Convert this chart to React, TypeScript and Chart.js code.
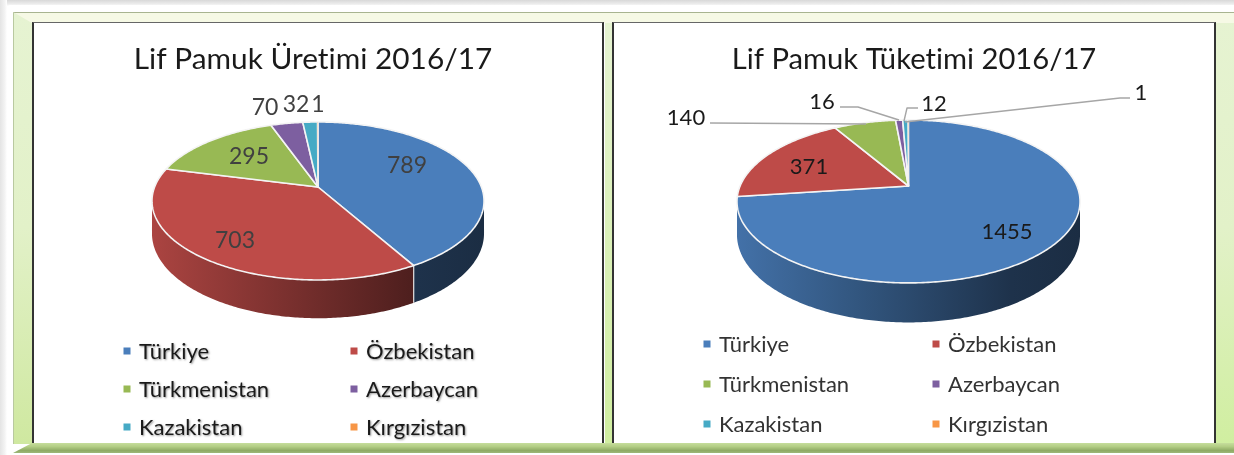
import React, { useEffect, useRef } from "react";
import { Chart, registerables } from "chart.js";

Chart.register(...registerables);

const countries = ["Türkiye", "Özbekistan", "Türkmenistan", "Azerbaycan", "Kazakistan", "Kırgızistan"];
const productionValues = [789, 703, 295, 70, 32, 1];
const consumptionValues = [1455, 371, 140, 16, 12, 1];
const sliceColors = ["#4a7ebb", "#be4b48", "#98b954", "#7d5fa0", "#46aac5", "#f79646"];
const productionTitle = "Lif Pamuk Üretimi 2016/17";
const consumptionTitle = "Lif Pamuk Tüketimi 2016/17";

const FONT = "Lato, Carlito, sans-serif";

type Panel = {
  left: number; top: number; width: number; height: number;
  cx: number; cy: number; rx: number; ry: number; k: number; depth: number;
  pieLeft: number; pieRight: number;
  labelColor: string; labelSize: number;
  labelPos: [number, number][];
  leaders: [number, number][][];
  legendX: [number, number]; legendY: number[]; legendShadow: boolean; legendColor: string;
  titlePad: number; titleSize: number;
};

const leftPanel: Panel = {
  left: 34, top: 24, width: 558, height: 418,
  cx: 318, cy: 187, rx: 163.4, ry: 76.5, k: 0.177, depth: 31.5,
  pieLeft: 152, pieRight: 484,
  labelColor: "#404040", labelSize: 23,
  labelPos: [[407, 166], [235, 241], [249, 157], [265, 108], [296, 105], [318, 105]],
  leaders: [],
  legendX: [127, 354], legendY: [351, 389, 427], legendShadow: true, legendColor: "#1a1a1a",
  titlePad: 18, titleSize: 29.8,
};

const rightPanel: Panel = {
  left: 614, top: 24, width: 600, height: 418,
  cx: 908.5, cy: 186, rx: 168.4, ry: 78.5, k: 0.19, depth: 32,
  pieLeft: 737, pieRight: 1080,
  labelColor: "#1a1a1a", labelSize: 22,
  labelPos: [[1007, 232], [809, 167], [686, 118], [822, 102], [934, 104], [1141, 93]],
  leaders: [
    [[710, 123], [866, 124]],
    [[840, 107], [858, 107], [899, 120]],
    [[918, 108], [907, 108], [904, 121]],
    [[1130, 98], [1120, 98], [905, 122]],
  ],
  legendX: [707, 936], legendY: [344, 384, 424], legendShadow: false, legendColor: "#333333",
  titlePad: 18, titleSize: 29.2,
};

function shade(hex: string, f: number) {
  const n = parseInt(hex.slice(1), 16);
  const c = [(n >> 16) & 255, (n >> 8) & 255, n & 255].map((v) => Math.round(v * f));
  return `rgb(${c[0]},${c[1]},${c[2]})`;
}

function tiltedPie(p: Panel) {
  return {
    id: "tiltedPie",
    beforeDraw(chart: any) {
      // a tiny letter spacing switches off Lato's "ti" ligature
      chart.ctx.letterSpacing = "0.01px";
    },
    beforeDatasetsDraw(chart: any) {
      const ctx: CanvasRenderingContext2D = chart.ctx;
      const arcs = chart.getDatasetMeta(0).data;
      const colors = chart.data.datasets[0].backgroundColor as string[];
      const values = chart.data.datasets[0].data as number[];
      const den = (a: number) => 1 - p.k * Math.sin(a);
      const px = (a: number) => p.cx + (p.rx * Math.cos(a)) / den(a);
      const py = (a: number) => p.cy + (p.ry * Math.sin(a)) / den(a);
      const dy = (a: number) => p.depth / den(a);
      const samples = (s: number, e: number) => {
        const n = Math.max(2, Math.ceil(Math.abs(e - s) / 0.012));
        return Array.from({ length: n + 1 }, (_, i) => s + ((e - s) * i) / n);
      };
      const frontStart = Math.asin(p.k);
      const frontEnd = Math.PI - frontStart;

      ctx.save();
      ctx.translate(-p.left, -p.top);

      arcs.forEach((arc: any, i: number) => {
        const s = Math.max(arc.startAngle, frontStart);
        const e = Math.min(arc.endAngle, frontEnd);
        if (e <= s) return;
        const pts = samples(s, e);
        const g = ctx.createLinearGradient(p.pieLeft, 0, p.pieRight, 0);
        g.addColorStop(0, shade(colors[i], 0.9));
        g.addColorStop(0.35, shade(colors[i], 0.68));
        g.addColorStop(0.8, shade(colors[i], 0.4));
        g.addColorStop(1, shade(colors[i], 0.36));
        ctx.beginPath();
        pts.forEach((a, j) => (j ? ctx.lineTo(px(a), py(a)) : ctx.moveTo(px(a), py(a))));
        [...pts].reverse().forEach((a) => ctx.lineTo(px(a), py(a) + dy(a)));
        ctx.closePath();
        ctx.fillStyle = g;
        ctx.fill();
      });

      arcs.forEach((arc: any) => {
        const a = arc.startAngle;
        if (a <= frontStart || a >= frontEnd) return;
        ctx.beginPath();
        ctx.moveTo(px(a), py(a));
        ctx.lineTo(px(a), py(a) + dy(a));
        ctx.strokeStyle = "rgba(240,240,240,0.9)";
        ctx.lineWidth = 1.2;
        ctx.stroke();
      });

      arcs.forEach((arc: any, i: number) => {
        const pts = samples(arc.startAngle, arc.endAngle);
        ctx.beginPath();
        ctx.moveTo(p.cx, p.cy);
        pts.forEach((a) => ctx.lineTo(px(a), py(a)));
        ctx.closePath();
        ctx.fillStyle = colors[i];
        ctx.fill();
        ctx.strokeStyle = "#f4f4f4";
        ctx.lineWidth = values[i] < 5 ? 0.4 : 1.6;
        ctx.lineJoin = "round";
        ctx.stroke();
      });

      ctx.strokeStyle = "#a6a6a6";
      ctx.lineWidth = 1.4;
      p.leaders.forEach((line) => {
        ctx.beginPath();
        line.forEach(([x, y], j) => (j ? ctx.lineTo(x, y) : ctx.moveTo(x, y)));
        ctx.stroke();
      });

      ctx.textAlign = "center";
      ctx.textBaseline = "middle";
      ctx.fillStyle = p.labelColor;
      ctx.font = `${p.labelSize}px ${FONT}`;
      values.forEach((v, i) => ctx.fillText(String(v), p.labelPos[i][0], p.labelPos[i][1]));

      ctx.font = `22px ${FONT}`;
      ctx.textAlign = "left";
      (chart.data.labels as string[]).forEach((label, i) => {
        const x = p.legendX[i % 2];
        const y = p.legendY[Math.floor(i / 2)];
        ctx.shadowColor = "transparent";
        ctx.fillStyle = colors[i];
        ctx.fillRect(x - 3.5, y - 3.5, 7, 7);
        if (p.legendShadow) {
          ctx.shadowColor = "rgba(0,0,0,0.4)";
          ctx.shadowBlur = 2;
          ctx.shadowOffsetX = 1;
          ctx.shadowOffsetY = 1;
        }
        ctx.fillStyle = p.legendColor;
        ctx.fillText(label, x + 12, y + 1);
      });
      ctx.restore();
      return false;
    },
  };
}

function PieCanvas({ panel, title, values }: { panel: Panel; title: string; values: number[] }) {
  const ref = useRef<HTMLCanvasElement>(null);
  useEffect(() => {
    const chart = new Chart(ref.current!, {
      type: "pie",
      data: {
        labels: countries,
        datasets: [{ data: values, backgroundColor: sliceColors }],
      },
      options: {
        animation: false,
        responsive: false,
        events: [],
        plugins: {
          legend: { display: false },
          tooltip: { enabled: false },
          title: {
            display: true,
            text: title,
            color: "#1a1a1a",
            font: { family: FONT, size: panel.titleSize, weight: "normal" },
            padding: { top: panel.titlePad, bottom: 4 },
          },
        },
      },
      plugins: [tiltedPie(panel)],
    } as any);
    return () => chart.destroy();
  }, []);
  return (
    <canvas
      ref={ref}
      width={panel.width}
      height={panel.height}
      style={{
        position: "absolute",
        left: panel.left,
        top: panel.top,
        width: panel.width,
        height: panel.height,
        filter: "blur(0.45px)",
      }}
    />
  );
}

const box = (left: number, top: number, width: number, height: number, extra: React.CSSProperties = {}) => (
  <div style={{ position: "absolute", left, top, width, height, ...extra }} />
);

export default function App() {
  return (
    <div style={{ position: "fixed", left: 0, top: 0, width: 1234, height: 455, overflow: "hidden", background: "#fff" }}>
      {box(0, 0, 1234, 6, { background: "linear-gradient(#d8d8d8,#eeeeee 70%,#ffffff)" })}
      {box(0, 0, 7, 455, { background: "linear-gradient(90deg,#e4e4e4,#f4f4f4 70%,#ffffff)" })}
      {box(7, 5, 1227, 447, { background: "#fff", borderRadius: "4px 0 0 0" })}
      {box(13, 12, 20, 432, { background: "linear-gradient(#e6f3d2,#e2f1c8 50%,#cfe8a0)", borderLeft: "1px solid #b9c9a0", boxSizing: "border-box" })}
      {box(1216, 12, 18, 432, { background: "linear-gradient(#e6f3d2,#e2f1c8 50%,#d0eea0)" })}
      {box(605, 22, 8, 421, { background: "linear-gradient(#e6f3d2,#d0eea0)" })}
      {box(13, 12, 1221, 11, {
        background: "#f6f9e5",
        borderTop: "1px solid #a8b490",
        boxSizing: "border-box",
        clipPath: "polygon(0 0,100% 0,100% 100%,19px 100%)",
      })}
      {box(13, 443, 1221, 10, {
        background: "linear-gradient(#c6dd9c,#b3ce85 35%,#8fab65 75%,#9db878)",
        clipPath: "polygon(0 100%,19px 0,100% 0,100% 100%)",
      })}
      {box(32, 22, 572, 421, { background: "#fff", borderLeft: "2px solid #333", borderRight: "2px solid #333", borderTop: "1.5px solid #666", boxSizing: "border-box" })}
      {box(612, 22, 604, 421, { background: "#fff", borderLeft: "2px solid #333", borderRight: "2px solid #333", borderTop: "1.5px solid #666", boxSizing: "border-box" })}
      <PieCanvas panel={leftPanel} title={productionTitle} values={productionValues} />
      <PieCanvas panel={rightPanel} title={consumptionTitle} values={consumptionValues} />
    </div>
  );
}
